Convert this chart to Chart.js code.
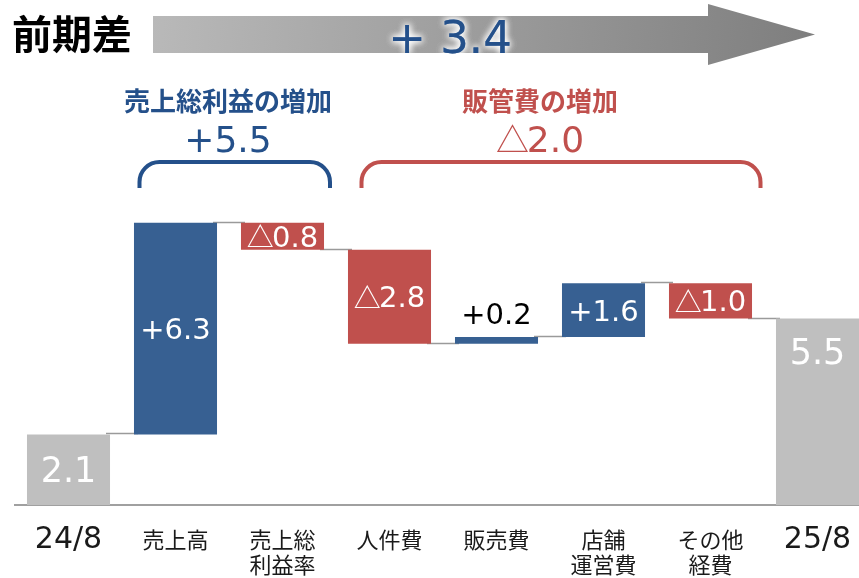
<!DOCTYPE html>
<html>
<head>
<meta charset="utf-8">
<script src="https://cdn.jsdelivr.net/npm/chart.js@4"></script>
<style>
    html, body { margin: 0; padding: 0; background: #fff; overflow: hidden; }
    canvas { display: block; }
</style>
</head>
<body>
<canvas id="waterfall" width="875" height="578"></canvas>
<script>
const categories = ['24/8', '売上高', ['売上総', '利益率'], '人件費', '販売費', ['店舗', '運営費'], ['その他', '経費'], '25/8'];
const barStart = [0, 2.1, 8.4, 7.6, 4.8, 5.0, 6.6, 0];
const barEnd = [2.1, 8.4, 7.6, 4.8, 5.0, 6.6, 5.55, 5.55];
const valueLabels = ['2.1', '+6.3', '△0.8', '△2.8', '+0.2', '+1.6', '△1.0', '5.5'];
const barKinds = ['total', 'up', 'down', 'down', 'up', 'up', 'down', 'total'];
const totalChange = '+ 3.4';
const groupTitles = ['売上総利益の増加', '販管費の増加'];
const groupValues = ['+5.5', '△2.0'];

const BLUE = '#376092';
const RED = '#C0504D';
const GRAY = '#BFBFBF';
const HEAD_BLUE = '#24508A';
const kindColor = { total: GRAY, up: BLUE, down: RED };
const NUM_FONT = '"DejaVu Sans", "Noto Sans CJK JP", sans-serif';
const JP_FONT = '"Noto Sans CJK JP", sans-serif';

// draws text with its cap-height centred on cy; a leading △ is set in the CJK font
function numText(ctx, text, x, cy, size, color) {
    ctx.fillStyle = color;
    ctx.textAlign = 'left';
    let tri = '';
    let rest = text;
    if (text.startsWith('△')) { tri = '△'; rest = text.slice(1); }
    const triSize = Math.round(size * 0.93);
    ctx.font = triSize + 'px ' + JP_FONT;
    const triW = tri ? ctx.measureText(tri).width - size * 0.06 : 0;
    ctx.font = size + 'px ' + NUM_FONT;
    const restW = ctx.measureText(rest).width;
    let left = x - (triW + restW) / 2;
    if (tri) {
        ctx.font = triSize + 'px ' + JP_FONT;
        ctx.textBaseline = 'middle';
        ctx.fillText(tri, left, cy + size * 0.02);
        left += triW;
    }
    ctx.font = size + 'px ' + NUM_FONT;
    ctx.textBaseline = 'alphabetic';
    ctx.fillText(rest, left, cy + size * 0.365);
}

const connectorPlugin = {
    id: 'connectors',
    beforeDatasetsDraw(chart) {
        const ctx = chart.ctx;
        const bars = chart.getDatasetMeta(0).data;
        const y = chart.scales.y;
        ctx.save();
        ctx.strokeStyle = '#9a9a9a';
        ctx.lineWidth = 1.5;
        for (let i = 0; i < bars.length - 1; i++) {
            const py = Math.round(y.getPixelForValue(barEnd[i])) - 0.5;
            ctx.beginPath();
            ctx.moveTo(bars[i].x + bars[i].width / 2 - 4, py);
            ctx.lineTo(bars[i + 1].x - bars[i + 1].width / 2 + 4, py);
            ctx.stroke();
        }
        ctx.restore();
    }
};

const labelPlugin = {
    id: 'barLabels',
    afterDatasetsDraw(chart) {
        const ctx = chart.ctx;
        const bars = chart.getDatasetMeta(0).data;
        ctx.save();
        bars.forEach((bar, i) => {
            const top = Math.min(bar.y, bar.base);
            const bottom = Math.max(bar.y, bar.base);
            const h = bottom - top;
            if (barKinds[i] === 'total') {
                const cy = i === 0 ? (top + bottom) / 2 : top + 33;
                numText(ctx, valueLabels[i], bar.x, cy, 35, '#fff');
            } else if (h < 20) {
                numText(ctx, valueLabels[i], bar.x, top - 24, 29, '#000');
            } else {
                numText(ctx, valueLabels[i], bar.x, (top + bottom) / 2, 29, '#fff');
            }
        });
        ctx.restore();
    }
};

const headerPlugin = {
    id: 'header',
    afterDraw(chart) {
        const ctx = chart.ctx;
        ctx.save();

        // title
        ctx.font = 'bold 40px ' + JP_FONT;
        ctx.fillStyle = '#000';
        ctx.textAlign = 'left';
        ctx.textBaseline = 'middle';
        ctx.fillText('前期差', 12, 34);

        // big arrow
        const grad = ctx.createLinearGradient(153, 4, 815, 65);
        grad.addColorStop(0, '#b9b9b9');
        grad.addColorStop(1, '#7e7e7e');
        ctx.fillStyle = grad;
        ctx.beginPath();
        ctx.moveTo(153, 16);
        ctx.lineTo(708, 16);
        ctx.lineTo(708, 4);
        ctx.lineTo(815, 34.5);
        ctx.lineTo(708, 65);
        ctx.lineTo(708, 53);
        ctx.lineTo(153, 53);
        ctx.closePath();
        ctx.fill();

        ctx.shadowColor = '#fff';
        ctx.shadowBlur = 7;
        for (let k = 0; k < 3; k++) numText(ctx, totalChange, 450, 36.5, 45, HEAD_BLUE);
        ctx.shadowBlur = 0;

        // group headers with brackets
        const groups = [
            { x1: 139.5, x2: 330, cx: 228, color: HEAD_BLUE },
            { x1: 361.5, x2: 760.5, cx: 540, color: RED }
        ];
        groups.forEach((g, i) => {
            ctx.font = 'bold 26px ' + JP_FONT;
            ctx.fillStyle = g.color;
            ctx.textAlign = 'center';
            ctx.textBaseline = 'middle';
            ctx.fillText(groupTitles[i], g.cx, 101);
            numText(ctx, groupValues[i], g.cx, 138.5, 36, g.color);

            const r = 20, top = 162, bot = 188;
            ctx.strokeStyle = g.color;
            ctx.lineWidth = 4;
            ctx.beginPath();
            ctx.moveTo(g.x1, bot);
            ctx.lineTo(g.x1, top + r);
            ctx.arcTo(g.x1, top, g.x1 + r, top, r);
            ctx.lineTo(g.x2 - r, top);
            ctx.arcTo(g.x2, top, g.x2, top + r, r);
            ctx.lineTo(g.x2, bot);
            ctx.stroke();
        });
        ctx.restore();
    }
};

new Chart(document.getElementById('waterfall').getContext('2d'), {
    type: 'bar',
    data: {
        labels: categories,
        datasets: [{
            data: barStart.map((s, i) => [s, barEnd[i]]),
            backgroundColor: barKinds.map(k => kindColor[k]),
            borderWidth: 0,
            categoryPercentage: 1,
            barPercentage: 0.776
        }]
    },
    options: {
        responsive: false,
        animation: false,
        devicePixelRatio: 1,
        layout: { padding: { top: 169, left: 15, right: 4, bottom: 0 } },
        plugins: { legend: { display: false }, tooltip: { enabled: false } },
        scales: {
            y: { min: 0, max: 10, display: false },
            x: {
                grid: { display: false, drawTicks: false },
                border: { display: true, color: '#a0a0a0', width: 2 },
                ticks: {
                    padding: 22,
                    color: '#1a1a1a',
                    maxRotation: 0,
                    autoSkip: false,
                    font: (c) => (c.index === 0 || c.index === 7)
                        ? { family: NUM_FONT, size: 30, lineHeight: '26px' }
                        : { family: JP_FONT, size: 22, lineHeight: '25px' }
                },
                afterFit: (s) => { s.height = 73; }
            }
        }
    },
    plugins: [connectorPlugin, labelPlugin, headerPlugin]
});
</script>
</body>
</html>
